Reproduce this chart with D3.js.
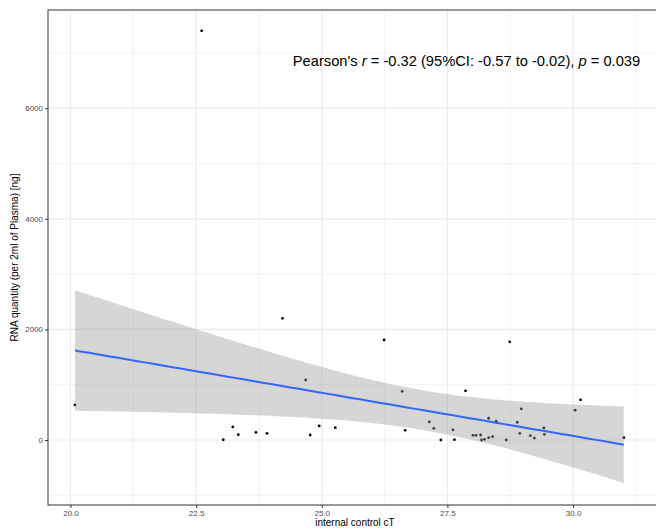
<!DOCTYPE html>
<html>
<head>
<meta charset="utf-8">
<script src="https://cdn.jsdelivr.net/npm/d3@7"></script>
<style>
  body { margin: 0; background: #fff; }
  svg { display: block; font-family: "Liberation Sans", Arial, sans-serif; }
</style>
</head>
<body>
<div id="chart"></div>
<script>
// internal control cT (x) and RNA quantity in ng (y)
var cT = [
	20.09, 22.61, 24.22, 26.24, 24.68, 26.60, 23.23, 23.04, 23.34, 23.69, 23.91, 24.77, 24.95, 25.27, 26.66,
	28.74, 27.86, 30.15, 30.04, 28.97, 27.14, 27.23, 27.37, 27.61, 27.64, 28.32, 28.47, 28.01, 28.07, 28.16,
	28.18, 28.24, 28.32, 28.40, 28.67, 28.89, 28.94, 29.15, 29.23, 29.42, 29.43, 31.01
];
var rna = [
	635, 7400, 2200, 1810, 1085, 880, 236, 5, 97, 139, 121, 91, 255, 224, 176,
	1775, 890, 727, 540, 564, 327, 212, 0, 182, 6, 394, 339, 85, 85, 91,
	0, 12, 42, 61, 0, 321, 121, 79, 36, 218, 103, 42
];

var xTicks = [20, 22.5, 25, 27.5, 30];
var xMinor = [21.25, 23.75, 26.25, 28.75, 31.25];
var yTicks = [0, 2000, 4000, 6000];
var yMinor = [-1000, 1000, 3000, 5000, 7000];

var annotation = "Pearson's r = -0.32 (95%CI: -0.57 to -0.02), p = 0.039";

var W = 656, H = 529;
var panel = {left: 48, top: 10, right: 662, bottom: 505};

var svg = d3.select("#chart").append("svg").attr("width", W).attr("height", H);

var x = d3.scaleLinear().domain([19.553, 31.77]).range([panel.left, panel.right]);
var y = d3.scaleLinear().domain([-1175, 7776]).range([panel.bottom, panel.top]);

// grid
var grid = svg.append("g");
xMinor.forEach(function(v){
	grid.append("line").attr("x1", x(v)).attr("x2", x(v)).attr("y1", panel.top).attr("y2", panel.bottom)
		.attr("stroke", "#ebebeb").attr("stroke-width", 0.6);
});
yMinor.forEach(function(v){
	grid.append("line").attr("y1", y(v)).attr("y2", y(v)).attr("x1", panel.left).attr("x2", panel.right)
		.attr("stroke", "#ebebeb").attr("stroke-width", 0.6);
});
xTicks.forEach(function(v){
	grid.append("line").attr("x1", x(v)).attr("x2", x(v)).attr("y1", panel.top).attr("y2", panel.bottom)
		.attr("stroke", "#ebebeb").attr("stroke-width", 1.2);
});
yTicks.forEach(function(v){
	grid.append("line").attr("y1", y(v)).attr("y2", y(v)).attr("x1", panel.left).attr("x2", panel.right)
		.attr("stroke", "#ebebeb").attr("stroke-width", 1.2);
});

// points
var pts = cT.map(function(d, i){ return {x: d, y: rna[i]}; });
svg.append("g").selectAll("circle").data(pts).join("circle")
	.attr("cx", d => x(d.x)).attr("cy", d => y(d.y)).attr("r", 1.4).attr("fill", "#000");

// linear fit with 95% confidence band (like geom_smooth(method = "lm"))
var n = pts.length;
var mx = d3.mean(cT), my = d3.mean(rna);
var sxx = d3.sum(cT, d => (d - mx) * (d - mx));
var sxy = d3.sum(pts, d => (d.x - mx) * (d.y - my));
var slope = sxy / sxx, icpt = my - slope * mx;
var sse = d3.sum(pts, d => Math.pow(d.y - (icpt + slope * d.x), 2));
var s = Math.sqrt(sse / (n - 2));
var tq = 2.021; // t quantile 0.975, df = 40
var xmin = d3.min(cT), xmax = d3.max(cT);
var fit = d3.range(80).map(function(i){
	var xv = xmin + (xmax - xmin) * i / 79;
	var yv = icpt + slope * xv;
	var se = s * Math.sqrt(1 / n + (xv - mx) * (xv - mx) / sxx);
	return {x: xv, y: yv, lo: yv - tq * se, hi: yv + tq * se};
});

svg.append("path").datum(fit)
	.attr("d", d3.area().x(d => x(d.x)).y0(d => y(d.lo)).y1(d => y(d.hi)))
	.attr("fill", "#999999").attr("fill-opacity", 0.4);
svg.append("path").datum(fit)
	.attr("d", d3.line().x(d => x(d.x)).y(d => y(d.y)))
	.attr("fill", "none").attr("stroke", "#3366FF").attr("stroke-width", 2);

// panel border
svg.append("rect").attr("x", panel.left).attr("y", panel.top)
	.attr("width", panel.right - panel.left).attr("height", panel.bottom - panel.top)
	.attr("fill", "none").attr("stroke", "#444").attr("stroke-width", 1.1);

// axes
var xAxis = svg.append("g").attr("transform", "translate(0," + panel.bottom + ")")
	.call(d3.axisBottom(x).tickValues(xTicks).tickFormat(d3.format(".1f")).tickSize(3).tickPadding(2));
var yAxis = svg.append("g").attr("transform", "translate(" + panel.left + ",0)")
	.call(d3.axisLeft(y).tickValues(yTicks).tickFormat(d3.format("d")).tickSize(3).tickPadding(2));
[xAxis, yAxis].forEach(function(a){
	a.select(".domain").remove();
	a.selectAll(".tick line").attr("stroke", "#333");
	a.selectAll(".tick text").attr("fill", "#4d4d4d").attr("font-size", 8)
		.attr("font-family", "'Liberation Sans', Arial, sans-serif");
});

// axis titles
svg.append("text").attr("x", (panel.left + panel.right) / 2).attr("y", 526)
	.attr("text-anchor", "middle").attr("font-size", 10).attr("fill", "#000")
	.text("internal control cT");
svg.append("text").attr("transform", "translate(18," + (panel.top + panel.bottom) / 2 + ") rotate(-90)")
	.attr("text-anchor", "middle").attr("font-size", 10).attr("fill", "#000")
	.text("RNA quantity (per 2ml of Plasma) [ng]");

// correlation annotation, r and p in italics
var parts = annotation.split(/(\br\b|\bp\b)/);
var ann = svg.append("text").attr("x", 466.5).attr("y", 66)
	.attr("text-anchor", "middle").attr("font-size", 14.7).attr("fill", "#000");
parts.forEach(function(p){
	var t = ann.append("tspan").text(p);
	if (p === "r" || p === "p") t.attr("font-style", "italic");
});
</script>
</body>
</html>
